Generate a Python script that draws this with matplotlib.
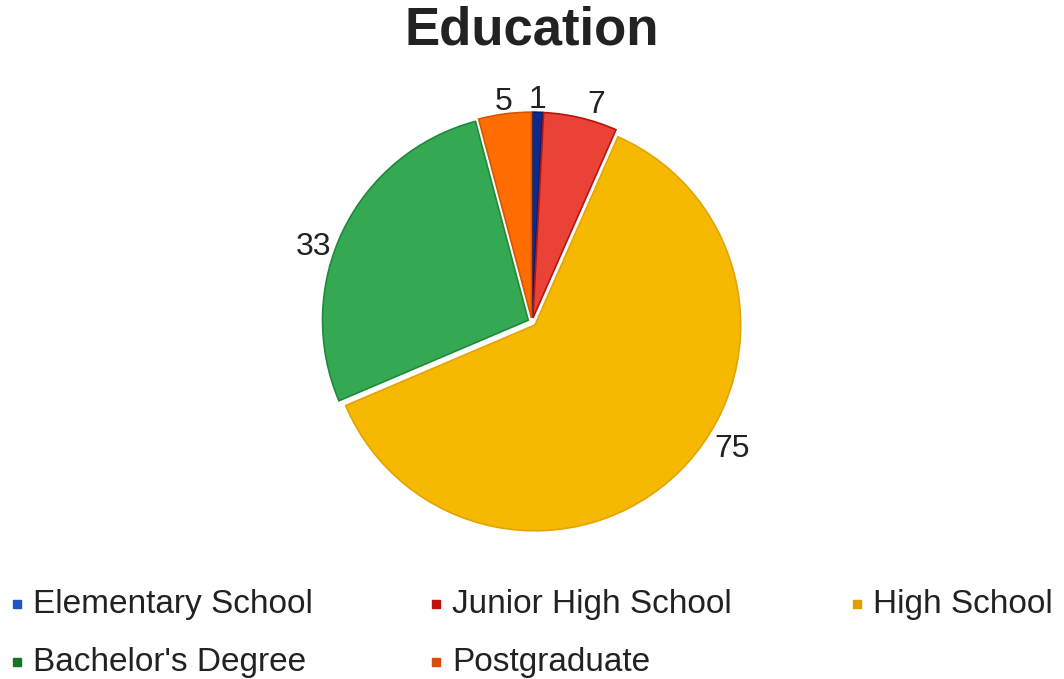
import numpy as np
import matplotlib.pyplot as plt
from matplotlib.lines import Line2D

plt.rcParams["font.family"] = ["Liberation Sans", "DejaVu Sans"]

# data
categories = ["Elementary School", "Junior High School", "High School",
              "Bachelor's Degree", "Postgraduate"]
counts = [1, 7, 75, 33, 5]

# styling
fill_colors = ["#0b2a8c", "#ea4335", "#f6b800", "#34a853", "#ff6d01"]
edge_colors = ["#061a66", "#b8140f", "#e2a400", "#1f8a3a", "#d85500"]
legend_colors = ["#1a56c4", "#c0100c", "#e0a000", "#16761f", "#e04a0a"]
label_shift_deg = [0, -3, 13, 7, 0]   # google-charts style nudging of labels
label_dist = [1.07, 1.09, 1.14, 1.11, 1.07]


def main():
    fig = plt.figure(figsize=(10.64, 6.79), dpi=100)

    # pie axes, centred around (532, 322) px, radius ~206 px
    ax = fig.add_axes([0.2265, 0.0972, 0.547, 0.857])
    wedges, _ = ax.pie(
        counts,
        colors=fill_colors,
        startangle=90,
        counterclock=False,
        radius=0.99,
        explode=[0.02] * len(counts),
    )
    for w, ec in zip(wedges, edge_colors):
        w.set_edgecolor(ec)
        w.set_linewidth(1.2)

    for w, val, shift, dist in zip(wedges, counts, label_shift_deg, label_dist):
        mid = np.deg2rad((w.theta1 + w.theta2) / 2 + shift)
        ax.text(dist * np.cos(mid), dist * np.sin(mid), str(val),
                ha="center", va="center", fontsize=23, color="#222222")

    ax.set_xlim(-1.4, 1.4)
    ax.set_ylim(-1.4, 1.4)
    ax.set_aspect("equal")
    ax.axis("off")

    fig.text(0.5, 0.955, "Education", ha="center", va="center",
             fontsize=38, fontweight="bold", color="#222222")

    # legend, row by row, 3 columns
    col_x = [17 / 1064, 436 / 1064, 857 / 1064]
    row_y = [1 - 604 / 679, 1 - 662 / 679]
    for i, (cat, c) in enumerate(zip(categories, legend_colors)):
        x = col_x[i % 3]
        y = row_y[i // 3]
        fig.add_artist(Line2D([x], [y], marker="s", markersize=6,
                              markerfacecolor=c, markeredgecolor=c,
                              linestyle="none", transform=fig.transFigure))
        fig.text(x + 16 / 1064, y, cat, ha="left", va="center",
                 fontsize=24, color="#222222")

    fig.savefig("out.png", dpi=100)
    plt.close(fig)


if __name__ == "__main__":
    main()
